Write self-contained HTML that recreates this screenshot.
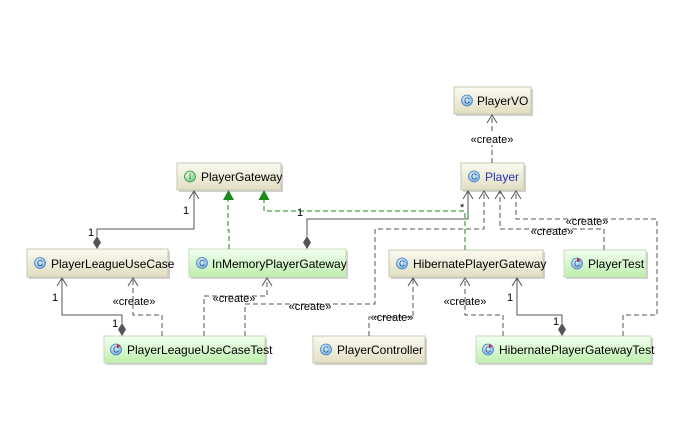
<!DOCTYPE html>
<html><head><meta charset="utf-8"><style>
html,body{margin:0;padding:0;background:#fff;}
svg{display:block;}
text{font-family:"Liberation Sans","DejaVu Sans",sans-serif;}
.n{font-size:12px;fill:#000;}
.l{font-size:11px;fill:#000;}
.d{fill:none;stroke:#555;stroke-width:1;stroke-dasharray:5,3;}
.s{fill:none;stroke:#555;stroke-width:1;}
.g{fill:none;stroke:#1a8a1a;stroke-width:1;stroke-dasharray:5,3;}
.a{fill:none;stroke:#555;stroke-width:1;}
</style></head><body>
<svg width="694" height="436" viewBox="0 0 694 436" xmlns="http://www.w3.org/2000/svg">
<defs>
<linearGradient id="bg" x1="0" y1="0" x2="0" y2="1"><stop offset="0" stop-color="#fafaf0"/><stop offset="1" stop-color="#e2dec2"/></linearGradient>
<linearGradient id="gg" x1="0" y1="0" x2="0" y2="1"><stop offset="0" stop-color="#f2fff0"/><stop offset="1" stop-color="#bdf0ad"/></linearGradient>
<radialGradient id="ic" cx="0.4" cy="0.35" r="0.7"><stop offset="0" stop-color="#e6f4ff"/><stop offset="1" stop-color="#6aa8e0"/></radialGradient>
<radialGradient id="ii" cx="0.4" cy="0.35" r="0.7"><stop offset="0" stop-color="#eaffea"/><stop offset="1" stop-color="#6cc87a"/></radialGradient>
</defs>

<!-- boxes -->
<g>
<rect x="456" y="89" width="77" height="27" fill="#d0d0d0"/>
<rect x="454" y="87" width="77" height="27" fill="url(#bg)" stroke="#c8c8b0"/>
<circle cx="467" cy="100.5" r="5.5" fill="url(#ic)" stroke="#4a86c0" stroke-width="0.8"/><text x="467" y="103.5" font-size="8" text-anchor="middle" fill="#1a3d70">C</text>
<text class="n" x="477" y="105">PlayerVO</text>

<rect x="463" y="165" width="63" height="27" fill="#d0d0d0"/>
<rect x="461" y="163" width="63" height="27" fill="url(#bg)" stroke="#c8c8b0"/>
<circle cx="474" cy="176.5" r="5.5" fill="url(#ic)" stroke="#4a86c0" stroke-width="0.8"/><text x="474" y="179.5" font-size="8" text-anchor="middle" fill="#1a3d70">C</text>
<text class="n" x="485" y="181" fill="#1a3cc0" style="fill:#2233bb">Player</text>

<rect x="179" y="165" width="104" height="27" fill="#d0d0d0"/>
<rect x="177" y="163" width="104" height="27" fill="url(#bg)" stroke="#c8c8b0"/>
<circle cx="190" cy="176.5" r="5.5" fill="url(#ii)" stroke="#3a9a4a" stroke-width="0.8"/><text x="190" y="179.5" font-size="8" text-anchor="middle" fill="#1a5020">I</text>
<text class="n" x="201" y="181">PlayerGateway</text>

<rect x="29" y="251" width="141" height="28" fill="#d0d0d0"/>
<rect x="27" y="249" width="141" height="28" fill="url(#bg)" stroke="#c8c8b0"/>
<circle cx="40" cy="263" r="5.5" fill="url(#ic)" stroke="#4a86c0" stroke-width="0.8"/><text x="40" y="266" font-size="8" text-anchor="middle" fill="#1a3d70">C</text>
<text class="n" x="51" y="268">PlayerLeagueUseCase</text>

<rect x="191" y="251" width="157" height="28" fill="#d0d0d0"/>
<rect x="189" y="249" width="157" height="28" fill="url(#gg)" stroke="#c8d8b8"/>
<circle cx="202" cy="263" r="5.5" fill="url(#ic)" stroke="#4a86c0" stroke-width="0.8"/><text x="202" y="266" font-size="8" text-anchor="middle" fill="#1a3d70">C</text>
<text class="n" x="212" y="268">InMemoryPlayerGateway</text>

<rect x="391" y="252" width="154" height="27" fill="#d0d0d0"/>
<rect x="389" y="250" width="154" height="27" fill="url(#bg)" stroke="#c8c8b0"/>
<circle cx="402" cy="263.5" r="5.5" fill="url(#ic)" stroke="#4a86c0" stroke-width="0.8"/><text x="402" y="266.5" font-size="8" text-anchor="middle" fill="#1a3d70">C</text>
<text class="n" x="413" y="268">HibernatePlayerGateway</text>

<rect x="566" y="252" width="82" height="27" fill="#d0d0d0"/>
<rect x="564" y="250" width="82" height="27" fill="url(#gg)" stroke="#c8d8b8"/>
<circle cx="577" cy="263.5" r="5.5" fill="url(#ic)" stroke="#4a86c0" stroke-width="0.8"/><path d="M577,258 l4,2 -4,2z" fill="#d03030"/><text x="577" y="266.5" font-size="8" text-anchor="middle" fill="#1a3d70">C</text>
<text class="n" x="588" y="268">PlayerTest</text>

<rect x="106" y="338" width="161" height="27" fill="#d0d0d0"/>
<rect x="104" y="336" width="161" height="27" fill="url(#gg)" stroke="#c8d8b8"/>
<circle cx="116" cy="349.5" r="5.5" fill="url(#ic)" stroke="#4a86c0" stroke-width="0.8"/><path d="M117,344 l4,2 -4,2z" fill="#d03030"/><text x="116" y="352.5" font-size="8" text-anchor="middle" fill="#1a3d70">C</text>
<text class="n" x="127" y="354">PlayerLeagueUseCaseTest</text>

<rect x="315" y="338" width="112" height="27" fill="#d0d0d0"/>
<rect x="313" y="336" width="112" height="27" fill="url(#bg)" stroke="#c8c8b0"/>
<circle cx="326" cy="349.5" r="5.5" fill="url(#ic)" stroke="#4a86c0" stroke-width="0.8"/><text x="326" y="352.5" font-size="8" text-anchor="middle" fill="#1a3d70">C</text>
<text class="n" x="337" y="354">PlayerController</text>

<rect x="478" y="338" width="175" height="27" fill="#d0d0d0"/>
<rect x="476" y="336" width="175" height="27" fill="url(#gg)" stroke="#c8d8b8"/>
<circle cx="488" cy="349.5" r="5.5" fill="url(#ic)" stroke="#4a86c0" stroke-width="0.8"/><path d="M489,344 l4,2 -4,2z" fill="#d03030"/><text x="488" y="352.5" font-size="8" text-anchor="middle" fill="#1a3d70">C</text>
<text class="n" x="499" y="354">HibernatePlayerGatewayTest</text>
</g>

<!-- connectors -->
<!-- Player -> PlayerVO -->
<path class="d" d="M492,163 V115"/><path class="a" d="M487,123 L492,115 L497,123"/>
<rect x="468" y="133" width="48" height="12" fill="#fff"/><text class="l" x="492" y="143" text-anchor="middle">«create»</text>

<!-- PLUC -> PlayerGateway composition -->
<path class="s" d="M97,236 V229 H194 V191"/><path class="a" d="M189,199 L194,191 L199,199"/>
<path d="M97,236 l4,6.5 -4,6.5 -4,-6.5z" fill="#555"/>
<text class="l" x="183" y="214">1</text><text class="l" x="88" y="236">1</text>

<!-- InMemory -> PlayerGateway realization -->
<path class="g" d="M229,249 V230 H228 V200"/><path d="M223,200 L228.5,190 L234,200z" fill="#1a8a1a"/>
<!-- Hibernate -> PlayerGateway realization -->
<path class="g" d="M465,250 V211 H264 V200"/><path d="M258.5,200 L264,190 L269.5,200z" fill="#1a8a1a"/>

<!-- InMemory -> Player composition -->
<path class="s" d="M307,236 V219 H468 V191"/><path class="a" d="M463,199 L468,191 L473,199"/>
<path d="M307,236 l4,6.5 -4,6.5 -4,-6.5z" fill="#555"/>
<text class="l" x="297" y="216">1</text><text class="l" x="460" y="211">*</text>

<!-- PLUCTest -> Player create -->
<path class="d" d="M245,336 V304 H375 V229 H484 V191"/><path class="a" d="M479,199 L484,191 L489,199"/>
<text class="l" x="310" y="310" text-anchor="middle">«create»</text>
<!-- PlayerTest -> Player -->
<path class="d" d="M604,250 V229 H500 V191"/><path class="a" d="M495,199 L500,191 L505,199"/>
<text class="l" x="552" y="235" text-anchor="middle">«create»</text>
<!-- HPGTest -> Player -->
<path class="d" d="M623,336 V315 H657 V219 H516 V191"/><path class="a" d="M511,199 L516,191 L521,199"/>
<text class="l" x="587" y="225" text-anchor="middle">«create»</text>

<!-- PlayerController -> Hibernate -->
<path class="d" d="M369,336 V317 H413 V278"/><path class="a" d="M408,286 L413,278 L418,286"/>
<text class="l" x="392" y="321" text-anchor="middle">«create»</text>
<!-- HPGTest -> Hibernate create -->
<path class="d" d="M503,336 V315 H465 V278"/><path class="a" d="M460,286 L465,278 L470,286"/>
<text class="l" x="465" y="305" text-anchor="middle">«create»</text>
<!-- HPGTest -> Hibernate composition -->
<path class="s" d="M562,323 V315 H517 V278"/><path class="a" d="M512,286 L517,278 L522,286"/>
<path d="M562,323 l4,6.5 -4,6.5 -4,-6.5z" fill="#555"/>
<text class="l" x="507" y="301">1</text><text class="l" x="553" y="325">1</text>

<!-- PLUCTest -> PLUC composition -->
<path class="s" d="M122,323 V315 H62 V278"/><path class="a" d="M57,286 L62,278 L67,286"/>
<path d="M122,323 l4,6.5 -4,6.5 -4,-6.5z" fill="#555"/>
<text class="l" x="52" y="301">1</text><text class="l" x="112" y="327">1</text>
<!-- PLUCTest -> PLUC create -->
<path class="d" d="M162,336 V315 H133 V278"/><path class="a" d="M128,286 L133,278 L138,286"/>
<text class="l" x="134" y="305" text-anchor="middle">«create»</text>
<!-- PLUCTest -> InMemory create -->
<path class="d" d="M204,336 V296 H267 V278"/><path class="a" d="M262,286 L267,278 L272,286"/>
<text class="l" x="234" y="302" text-anchor="middle">«create»</text>
</svg>
</body></html>
